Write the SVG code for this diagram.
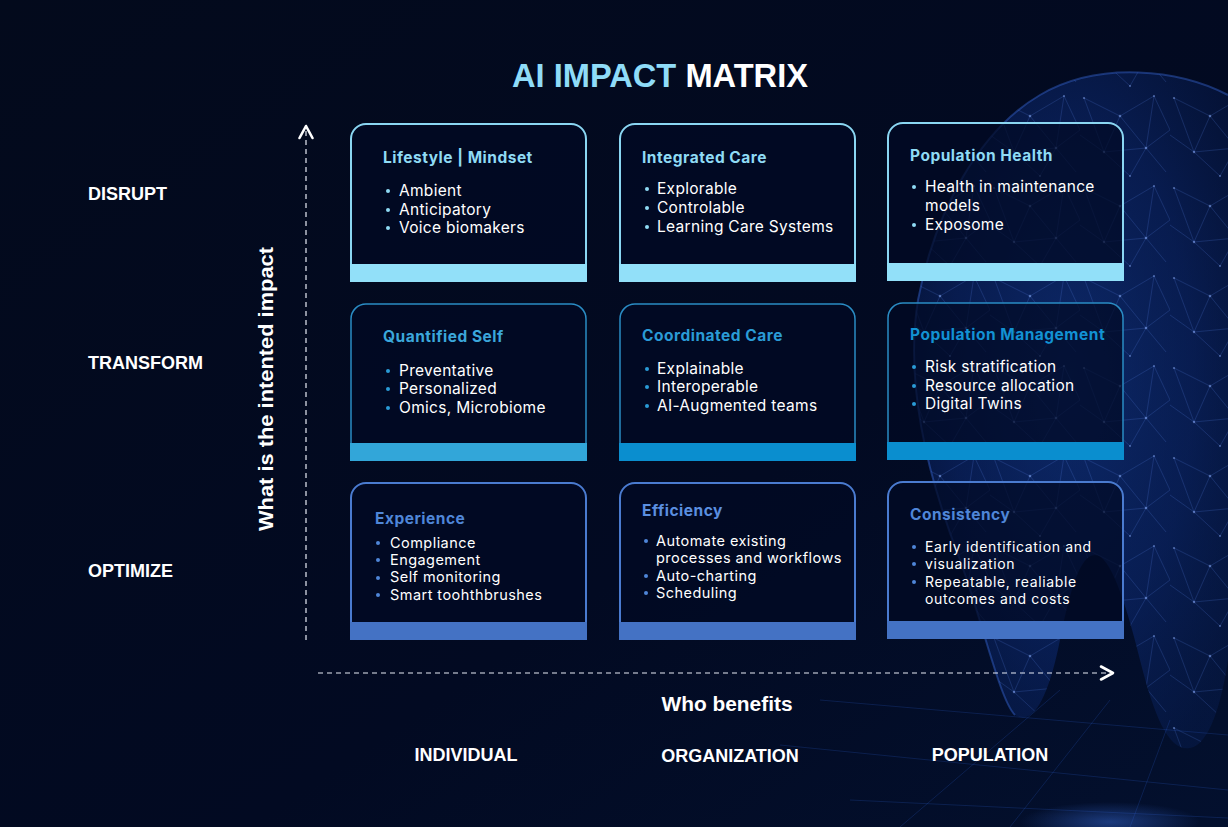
<svg xmlns="http://www.w3.org/2000/svg" width="1228" height="827" viewBox="0 0 1228 827">
<defs>
<linearGradient id="bg" x1="0" y1="0" x2="1" y2="1">
<stop offset="0" stop-color="#030a1c"/>
<stop offset="0.6" stop-color="#020a22"/>
<stop offset="1" stop-color="#03102e"/>
</linearGradient>
<radialGradient id="toothGlow" cx="0.5" cy="0.45" r="0.65">
<stop offset="0" stop-color="#15409f" stop-opacity="0.55"/>
<stop offset="0.6" stop-color="#0f3185" stop-opacity="0.45"/>
<stop offset="1" stop-color="#0a2566" stop-opacity="0.3"/>
</radialGradient>
<radialGradient id="spot" cx="0.5" cy="0.5" r="0.5">
<stop offset="0" stop-color="#3a6fe0" stop-opacity="0.45"/>
<stop offset="1" stop-color="#3a6fe0" stop-opacity="0"/>
</radialGradient>
<pattern id="net" width="90" height="90" patternUnits="userSpaceOnUse">
<g stroke="#5f8fff" stroke-opacity="0.3" stroke-width="0.6" fill="none">
<path d="M4 8 L40 26 L74 6 M40 26 L24 62 L66 58 L74 6 M24 62 L4 8 M66 58 L86 82 M24 62 L50 86 L66 58 M40 26 L66 58 M0 45 L24 62 M74 6 L90 40 L66 58"/>
</g>
<g fill="#8fb2ff" fill-opacity="0.5">
<circle cx="4" cy="8" r="1.1"/><circle cx="40" cy="26" r="1.3"/><circle cx="74" cy="6" r="1"/>
<circle cx="24" cy="62" r="1.2"/><circle cx="66" cy="58" r="1.3"/><circle cx="50" cy="86" r="1"/>
</g>
</pattern>
<style>
.title{font-family:"Liberation Sans",Arial,sans-serif;font-weight:700;font-size:33px}
.lab{font-family:"Liberation Sans",Arial,sans-serif;font-weight:700;font-size:18px;fill:#ffffff}
.ct{font-family:Inter,"Open Sans",sans-serif;font-weight:700;font-size:15.5px;letter-spacing:0.5px}
.bt{font-family:Inter,"Open Sans",sans-serif;font-weight:400;font-size:15.5px;letter-spacing:0.3px;fill:#ffffff}
.bt3{font-family:Inter,"Open Sans",sans-serif;font-weight:400;font-size:14.5px;letter-spacing:0.45px;fill:#ffffff}
.bt4{font-family:Inter,"Open Sans",sans-serif;font-weight:400;font-size:14px;letter-spacing:0.65px;fill:#ffffff}
.card{fill:#020a24;fill-opacity:0.72}
.r1 .card{stroke:#8ad6f2;stroke-width:2}
.r2 .card{stroke:#2a8cc4;stroke-width:1.5}
.r3 .card{stroke:#4a7bd0;stroke-width:2}
.r1 .ct,.r1 .dot{fill:#8fdbf5}
.r2 .ct,.r2 .dot{fill:#2a9bd6}
.r3 .ct,.r3 .dot{fill:#4f86d8}
.axis{stroke:#e8ecf5;stroke-width:1.2;stroke-dasharray:5 4;fill:none}
.head{stroke:#ffffff;stroke-width:2.6;fill:none;stroke-linecap:round;stroke-linejoin:round}
</style>
</defs>

<rect width="1228" height="827" fill="url(#bg)"/>

<!-- background tooth decoration -->
<g id="tooth">
<path d="M1228 95 C1180 70 1100 60 1040 95 C980 130 935 210 918 300 C905 380 925 470 960 560 C985 630 1000 700 1015 715 C1035 728 1050 690 1060 640 C1070 590 1080 555 1095 555 C1110 555 1125 600 1140 660 C1155 720 1170 752 1190 748 C1210 745 1222 700 1228 660 Z" fill="url(#toothGlow)"/>
<path d="M1228 95 C1180 70 1100 60 1040 95 C980 130 935 210 918 300 C905 380 925 470 960 560 C985 630 1000 700 1015 715 C1035 728 1050 690 1060 640 C1070 590 1080 555 1095 555 C1110 555 1125 600 1140 660 C1155 720 1170 752 1190 748 C1210 745 1222 700 1228 660 Z" fill="url(#net)"/>
<path d="M1228 95 C1180 70 1100 60 1040 95 C980 130 935 210 918 300 C905 380 925 470 960 560 C985 630 1000 700 1015 715" fill="none" stroke="#3d6de0" stroke-opacity="0.4" stroke-width="2"/>
<g stroke="#2f5fd0" stroke-opacity="0.22" stroke-width="1" fill="none">
<path d="M820 700 L1228 735"/>
<path d="M780 745 L1228 790"/>
<path d="M850 800 L1228 818"/>
<path d="M900 827 L1060 690"/>
<path d="M1010 827 L1110 700"/>
<path d="M1130 827 L1170 720"/>
</g>
<ellipse cx="1110" cy="822" rx="90" ry="20" fill="url(#spot)"/>
</g>

<text class="title" x="660" y="87" text-anchor="middle" textLength="296" lengthAdjust="spacingAndGlyphs"><tspan fill="#8fdcf8">AI IMPACT </tspan><tspan fill="#ffffff">MATRIX</tspan></text>

<g id="row-labels">
<text class="lab" x="88" y="200">DISRUPT</text>
<text class="lab" x="88" y="369">TRANSFORM</text>
<text class="lab" x="88" y="577">OPTIMIZE</text>
</g>
<g id="col-labels">
<text class="lab" x="466" y="761" text-anchor="middle">INDIVIDUAL</text>
<text class="lab" x="730" y="762" text-anchor="middle">ORGANIZATION</text>
<text class="lab" x="990" y="761" text-anchor="middle">POPULATION</text>
</g>
<text class="lab" x="727" y="711" text-anchor="middle" style="font-size:19.5px" textLength="131" lengthAdjust="spacingAndGlyphs">Who benefits</text>
<text class="lab" transform="translate(273 389) rotate(-90)" text-anchor="middle" style="font-size:20px" textLength="284" lengthAdjust="spacingAndGlyphs">What is the intented impact</text>

<g id="connectors">
<line class="axis" x1="306" y1="640" x2="306" y2="128"/>
<polyline class="head" points="299.5,138 306,126 312.5,138"/>
<line class="axis" x1="318" y1="673" x2="1108" y2="673"/>
<polyline class="head" points="1101,666.5 1113,673 1101,679.5"/>
</g>

<!-- Row 1 -->
<g class="r1">
<g id="lifestyle-mindset">
<rect class="card" x="351" y="124" width="235" height="156" rx="15"/>
<rect x="350" y="264" width="237" height="18" fill="#92e0f9"/>
<text class="ct" x="383" y="163">Lifestyle | Mindset</text>
<circle class="dot" cx="388" cy="191" r="2"/><text class="bt" x="399" y="196">Ambient</text>
<circle class="dot" cx="388" cy="210" r="2"/><text class="bt" x="399" y="215">Anticipatory</text>
<circle class="dot" cx="388" cy="228" r="2"/><text class="bt" x="399" y="233">Voice biomakers</text>
</g>
<g id="integrated-care">
<rect class="card" x="620" y="124" width="235" height="156" rx="15"/>
<rect x="619" y="264" width="237" height="18" fill="#92e0f9"/>
<text class="ct" x="642" y="163">Integrated Care</text>
<circle class="dot" cx="647" cy="189" r="2"/><text class="bt" x="657" y="194">Explorable</text>
<circle class="dot" cx="647" cy="208" r="2"/><text class="bt" x="657" y="213">Controlable</text>
<circle class="dot" cx="647" cy="227" r="2"/><text class="bt" x="657" y="232">Learning Care Systems</text>
</g>
<g id="population-health">
<rect class="card" x="888" y="123" width="235" height="156" rx="15"/>
<rect x="887" y="263" width="237" height="18" fill="#92e0f9"/>
<text class="ct" x="910" y="161">Population Health</text>
<circle class="dot" cx="914" cy="187" r="2"/><text class="bt" x="925" y="192">Health in maintenance</text>
<text class="bt" x="925" y="211">models</text>
<circle class="dot" cx="914" cy="225" r="2"/><text class="bt" x="925" y="230">Exposome</text>
</g>
</g>

<!-- Row 2 -->
<g class="r2">
<g id="quantified-self">
<rect class="card" x="351" y="304" width="235" height="155" rx="15"/>
<rect x="350" y="443" width="237" height="18" fill="#32a6d9"/>
<text class="ct" x="383" y="342" style="fill:#3ba7db">Quantified Self</text>
<circle class="dot" cx="388" cy="371" r="2"/><text class="bt" x="399" y="376">Preventative</text>
<circle class="dot" cx="388" cy="389" r="2"/><text class="bt" x="399" y="394">Personalized</text>
<circle class="dot" cx="388" cy="408" r="2"/><text class="bt" x="399" y="413">Omics, Microbiome</text>
</g>
<g id="coordinated-care">
<rect class="card" x="620" y="304" width="235" height="155" rx="15"/>
<rect x="619" y="443" width="237" height="18" fill="#0a8ecf"/>
<text class="ct" x="642" y="341">Coordinated Care</text>
<circle class="dot" cx="647" cy="369" r="2"/><text class="bt" x="657" y="374">Explainable</text>
<circle class="dot" cx="647" cy="387" r="2"/><text class="bt" x="657" y="392">Interoperable</text>
<circle class="dot" cx="647" cy="406" r="2"/><text class="bt" x="657" y="411">AI-Augmented teams</text>
</g>
<g id="population-management">
<rect class="card" x="888" y="303" width="235" height="155" rx="15"/>
<rect x="887" y="442" width="237" height="18" fill="#0a8ecf"/>
<text class="ct" x="910" y="340" style="fill:#1292d4">Population Management</text>
<circle class="dot" cx="914" cy="367" r="2"/><text class="bt" x="925" y="372">Risk stratification</text>
<circle class="dot" cx="914" cy="386" r="2"/><text class="bt" x="925" y="391">Resource allocation</text>
<circle class="dot" cx="914" cy="404" r="2"/><text class="bt" x="925" y="409">Digital Twins</text>
</g>
</g>

<!-- Row 3 -->
<g class="r3">
<g id="experience">
<rect class="card" x="351" y="483" width="235" height="155" rx="15"/>
<rect x="350" y="622" width="237" height="18" fill="#4472c4"/>
<text class="ct" x="375" y="524">Experience</text>
<circle class="dot" cx="378" cy="543" r="2"/><text class="bt3" x="390" y="548">Compliance</text>
<circle class="dot" cx="378" cy="560" r="2"/><text class="bt3" x="390" y="565">Engagement</text>
<circle class="dot" cx="378" cy="578" r="2"/><text class="bt3" x="390" y="582">Self monitoring</text>
<circle class="dot" cx="378" cy="595" r="2"/><text class="bt3" x="390" y="600">Smart toohthbrushes</text>
</g>
<g id="efficiency">
<rect class="card" x="620" y="483" width="235" height="155" rx="15"/>
<rect x="619" y="622" width="237" height="18" fill="#4472c4"/>
<text class="ct" x="642" y="516" style="fill:#5b8fe0">Efficiency</text>
<circle class="dot" cx="646" cy="541" r="2"/><text class="bt3" x="656" y="546">Automate existing</text>
<text class="bt3" x="656" y="563">processes and workflows</text>
<circle class="dot" cx="646" cy="576" r="2"/><text class="bt3" x="656" y="581">Auto-charting</text>
<circle class="dot" cx="646" cy="593" r="2"/><text class="bt3" x="656" y="598">Scheduling</text>
</g>
<g id="consistency">
<rect class="card" x="888" y="482" width="235" height="155" rx="15"/>
<rect x="887" y="621" width="237" height="18" fill="#4472c4"/>
<text class="ct" x="910" y="520">Consistency</text>
<circle class="dot" cx="914" cy="547" r="2"/><text class="bt4" x="925" y="552">Early identification and</text>
<circle class="dot" cx="914" cy="564" r="2"/><text class="bt4" x="925" y="569">visualization</text>
<circle class="dot" cx="914" cy="582" r="2"/><text class="bt4" x="925" y="587">Repeatable, realiable</text>
<text class="bt4" x="925" y="604">outcomes and costs</text>
</g>
</g>
</svg>
